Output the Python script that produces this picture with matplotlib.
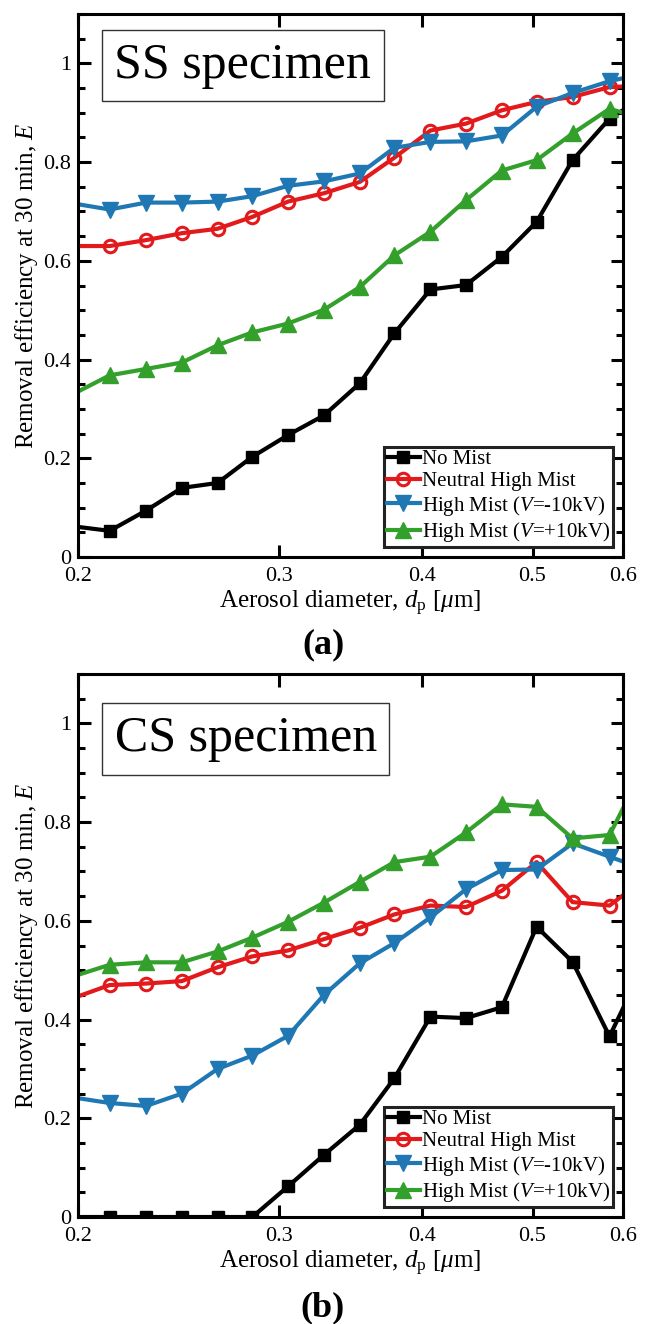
import matplotlib
matplotlib.use('Agg')
import matplotlib.pyplot as plt
from matplotlib.ticker import FixedLocator, NullLocator, MultipleLocator

plt.rcParams['font.family'] = ['Liberation Serif', 'DejaVu Serif']
plt.rcParams['mathtext.fontset'] = 'custom'
plt.rcParams['mathtext.rm'] = 'Liberation Serif'
plt.rcParams['mathtext.it'] = 'Liberation Serif:italic'
plt.rcParams['mathtext.bf'] = 'Liberation Serif:bold'

# aerosol diameter channels [um] (first and last fall just outside the axes)
dp = [0.1984, 0.2132, 0.2294, 0.2466, 0.2650, 0.2842, 0.3054, 0.3284, 0.3530,
      0.3784, 0.4070, 0.4372, 0.4700, 0.5041, 0.5420, 0.5839, 0.6275]

# (a) SS specimen
no_mist_a = [0.062, 0.053, 0.094, 0.140, 0.150, 0.203, 0.247, 0.287, 0.352,
             0.453, 0.542, 0.551, 0.608, 0.679, 0.804, 0.888, 0.933]
neutral_a = [0.630, 0.630, 0.642, 0.656, 0.665, 0.689, 0.720, 0.737, 0.760,
             0.809, 0.864, 0.878, 0.905, 0.922, 0.932, 0.952, 0.955]
neg_a = [0.716, 0.704, 0.718, 0.718, 0.720, 0.731, 0.752, 0.761, 0.777,
         0.829, 0.841, 0.842, 0.854, 0.912, 0.940, 0.964, 0.980]
pos_a = [0.331, 0.368, 0.381, 0.394, 0.429, 0.455, 0.473, 0.501, 0.547,
         0.611, 0.659, 0.723, 0.783, 0.804, 0.858, 0.908, 0.887]

# (b) CS specimen
no_mist_b = [0.0, 0.0, 0.0, 0.0, 0.0, 0.0, 0.062, 0.126, 0.187,
             0.281, 0.406, 0.403, 0.425, 0.588, 0.517, 0.366, 0.516]
neutral_b = [0.444, 0.470, 0.473, 0.478, 0.506, 0.528, 0.540, 0.563, 0.586,
             0.613, 0.631, 0.628, 0.661, 0.719, 0.638, 0.631, 0.686]
neg_b = [0.242, 0.231, 0.225, 0.250, 0.300, 0.327, 0.367, 0.450, 0.514,
         0.555, 0.607, 0.664, 0.703, 0.704, 0.757, 0.730, 0.704]
pos_b = [0.488, 0.511, 0.516, 0.516, 0.538, 0.566, 0.598, 0.637, 0.679,
         0.719, 0.730, 0.779, 0.836, 0.831, 0.767, 0.774, 0.916]

labels = ['No Mist', 'Neutral High Mist', 'High Mist ($V$=-10kV)', 'High Mist ($V$=+10kV)']
colors = ['black', '#E31A1C', '#1F78B4', '#33A02C']
xticks = [0.2, 0.3, 0.4, 0.5, 0.6]
yticks = [0, 0.2, 0.4, 0.6, 0.8, 1]

fig = plt.figure(figsize=(6.46, 13.24), dpi=100)
ax_a = fig.add_axes([0.1207, 0.5793, 0.8437, 0.4101])
ax_b = fig.add_axes([0.1207, 0.0808, 0.8437, 0.4101])


def draw(ax, series, title, box_x, box_y):
    styles = [dict(marker='s', ms=9, mfc='black'),
              dict(marker='o', ms=9, mfc='none', mew=2.2),
              dict(marker='v', ms=11),
              dict(marker='^', ms=11)]
    for y, c, lab, st in zip(series, colors, labels, styles):
        ax.plot(dp, y, color=c, lw=3, label=lab, markevery=slice(1, 16), **st)
    ax.set_xscale('log')
    ax.set_xlim(0.2, 0.6)
    ax.set_ylim(0, 1.1)
    ax.xaxis.set_major_locator(FixedLocator(xticks))
    ax.xaxis.set_minor_locator(NullLocator())
    ax.set_xticklabels([f'{v:g}' for v in xticks])
    ax.yaxis.set_major_locator(FixedLocator(yticks))
    ax.yaxis.set_minor_locator(MultipleLocator(0.05))
    ax.set_yticklabels([f'{v:g}' for v in yticks])
    ax.tick_params(which='both', direction='in', top=True, right=True, width=2.2,
                   labelsize=16)
    ax.tick_params(axis='x', which='major', length=9, pad=7)
    ax.tick_params(axis='y', which='major', length=9, pad=5)
    ax.tick_params(which='minor', length=5)
    for s in ax.spines.values():
        s.set_linewidth(2.2)
    ax.set_xlabel(r'Aerosol diameter, $d_{\rm p}$ [$\mu$m]', fontsize=18)
    ax.set_ylabel(r'Removal efficiency at 30 min, $E$', fontsize=18)
    ax.xaxis.set_label_coords(0.5, -0.058)
    ax.yaxis.set_label_coords(-0.07, 0.5)
    ax.text(box_x, box_y, title, transform=ax.transAxes, fontsize=36, ha='center', va='center',
            bbox=dict(boxstyle='square,pad=0.25', fc='white', ec='#333333', lw=1))
    leg = ax.legend(loc='lower right', fontsize=15, labelspacing=0.12, handlelength=1.6,
                    handletextpad=0.1, borderpad=0.12, borderaxespad=0.5,
                    fancybox=False, framealpha=1, edgecolor='#222222')
    leg.get_frame().set_linewidth(2.2)


draw(ax_a, [no_mist_a, neutral_a, neg_a, pos_a], 'SS specimen', 0.302, 0.905)
draw(ax_b, [no_mist_b, neutral_b, neg_b, pos_b], 'CS specimen', 0.308, 0.88)

fig.text(0.5, 1 - 645 / 1324, '(a)', fontsize=26, fontweight='bold', ha='center', va='center')
fig.text(0.5, 1 - 1308 / 1324, '(b)', fontsize=26, fontweight='bold', ha='center', va='center')

fig.savefig('out.png', dpi=100)
